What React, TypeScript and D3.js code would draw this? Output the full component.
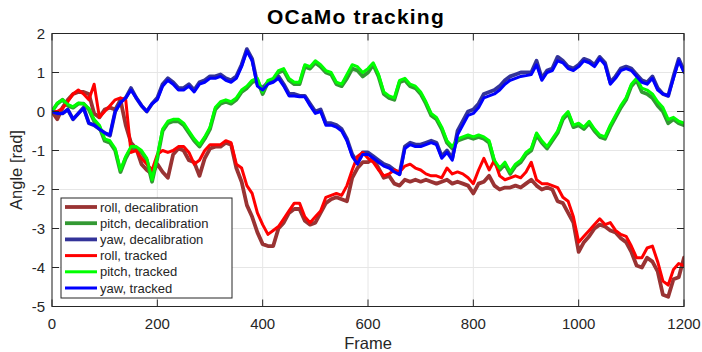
import { scaleLinear, line, range } from "d3";

// frames sampled every 10 (0..1200)
const frames = range(0, 1201, 10);

const rollDecal = [
  0, -0.2, 0.1, 0.3, 0.45, 0.5, 0.5, 0.45, -0.05, -0.15,
  0.05, 0.1, 0.05, 0.3, -0.35, -0.8, -0.95, -1.35, -1.5, -1.6,
  -1.35, -1.55, -1.7, -1.1, -0.95, -1.0, -1.25, -1.3, -1.65, -1.2,
  -0.95, -0.9, -0.9, -0.8, -0.85, -1.45, -1.8, -2.4, -2.7, -3.1,
  -3.4, -3.45, -3.45, -3.0, -2.85, -2.6, -2.5, -2.5, -2.8, -2.9,
  -2.85, -2.6, -2.35, -2.25, -2.2, -2.25, -2.3, -1.7, -1.45, -1.3,
  -1.3, -1.2, -1.45, -1.7, -1.65, -1.85, -1.9, -1.75, -1.8, -1.75,
  -1.8, -1.75, -1.8, -1.85, -1.8, -1.75, -1.85, -1.8, -1.85, -1.9,
  -2.1, -1.85, -1.8, -1.65, -1.9, -2.0, -1.95, -1.95, -1.9, -1.95,
  -1.85, -1.75, -1.9, -2.0, -1.95, -2.0, -2.3, -2.35, -2.6, -2.85,
  -3.6, -3.35, -3.2, -3.0, -2.9, -2.95, -3.05, -3.1, -3.25, -3.35,
  -3.6, -3.95, -4.0, -3.75, -3.85, -4.1, -4.7, -4.75, -4.3, -4.25,
  -3.75,
];

const pitchDecal = [
  0, 0.2, 0.3, 0.15, 0.1, 0.2, 0.2, 0.05, -0.25, -0.4,
  -0.75, -0.8, -1.0, -1.55, -1.2, -0.95, -0.95, -1.05, -1.25, -1.8,
  -1.2, -0.5, -0.3, -0.25, -0.25, -0.35, -0.55, -0.75, -0.9, -0.7,
  -0.45, 0.05, 0.2, 0.25, 0.2, 0.3, 0.5, 0.6, 0.75, 0.8,
  0.45, 0.75, 0.8, 1.0, 1.05, 0.8, 0.7, 0.7, 1.15, 1.1,
  1.25, 1.15, 1.0, 0.95, 0.7, 0.65, 0.85, 1.1, 1.05, 0.9,
  1.0, 1.2, 0.9, 0.45, 0.35, 0.3, 0.75, 0.8, 0.65, 0.6,
  0.45, 0.2, -0.1, -0.2, -0.45, -0.8, -0.95, -0.75, -0.7, -0.65,
  -0.7, -0.65, -0.7, -0.8, -1.3, -1.5, -1.35, -1.6, -1.4, -1.3,
  -1.1, -1.0, -0.6, -0.8, -0.95, -0.75, -0.55, -0.2, -0.05, -0.4,
  -0.35, -0.45, -0.3, -0.5, -0.65, -0.7, -0.4, -0.15, 0.1, 0.3,
  0.65, 0.8, 0.5, 0.45, 0.35, 0.15, 0.0, -0.3, -0.2, -0.3,
  -0.35,
];

const yawDecal = [
  0, -0.05, -0.05, 0.05, -0.2, -0.05, 0.1, -0.3, -0.35, -0.45,
  -0.55, -0.62, 0.0, 0.25, 0.35, 0.6, 0.35, 0.15, 0.0, 0.2,
  0.35, 0.7, 0.85, 0.75, 0.6, 0.6, 0.7, 0.55, 0.75, 0.8,
  0.9, 0.9, 0.95, 0.85, 0.8, 0.9, 1.2, 1.6, 1.35, 0.7,
  0.6, 0.75, 0.8, 0.9, 0.7, 0.45, 0.45, 0.4, 0.4, 0.2,
  0.0, 0.05, -0.3, -0.3, -0.35, -0.45, -0.7, -1.1, -1.3, -1.05,
  -1.05, -1.15, -1.25, -1.35, -1.4, -1.5, -1.6, -0.9, -0.8, -0.85,
  -0.85, -0.8, -0.75, -0.8, -1.15, -1.0, -1.2, -0.5, -0.25, 0.0,
  0.05, 0.2, 0.45, 0.5, 0.55, 0.65, 0.8, 0.9, 0.95, 1.0,
  1.0, 1.0, 1.3, 0.85, 1.05, 1.1, 1.4, 1.3, 1.15, 1.1,
  1.2, 1.35, 1.3, 1.2, 1.4, 1.25, 0.75, 0.9, 1.1, 1.15,
  1.1, 0.95, 0.8, 0.75, 0.9, 0.6, 0.45, 0.4, 0.9, 1.35,
  1.05,
];

const rollTracked = [
  0, 0.0, 0.08, 0.25, 0.45, 0.55, 0.45, 0.3, 0.7, -0.15,
  0.0, 0.15, 0.3, 0.35, 0.3, -1.05, -1.0, -1.2, -1.35, -1.5,
  -1.1, -1.0, -1.05, -1.0, -0.9, -0.9, -1.05, -1.35, -1.25, -1.0,
  -0.85, -0.85, -0.85, -0.75, -0.8, -1.35, -1.45, -1.9, -2.1, -2.6,
  -2.9, -3.15, -3.05, -2.95, -2.75, -2.55, -2.35, -2.35, -2.7, -2.85,
  -2.7, -2.55, -2.2, -2.15, -2.1, -2.15, -1.9, -1.5, -1.15, -1.05,
  -1.2, -1.3, -1.5, -1.65, -1.6, -1.5, -1.55, -1.4, -1.35, -1.45,
  -1.5, -1.6, -1.65, -1.65, -1.7, -1.45, -1.6, -1.55, -1.6, -1.7,
  -1.85, -1.5, -1.2, -1.5, -1.25, -1.65, -1.75, -1.7, -1.65, -1.7,
  -1.55, -1.3, -1.75, -1.85, -1.85, -1.9, -1.95, -2.2, -2.3, -2.7,
  -3.35, -3.2, -3.05, -2.9, -2.75, -2.9, -2.85, -3.05, -3.15, -3.2,
  -3.45, -3.75, -3.75, -3.5, -3.45, -3.85, -4.35, -4.45, -4.05, -3.9,
  -3.95,
];

const pitchTracked = [
  0, 0.22, 0.3, 0.18, 0.12, 0.22, 0.2, 0.08, -0.2, -0.35,
  -0.7, -0.75, -0.95, -1.5, -1.15, -0.9, -0.9, -1.0, -1.2, -1.75,
  -1.15, -0.45, -0.25, -0.2, -0.2, -0.3, -0.5, -0.7, -0.85, -0.65,
  -0.4, 0.1, 0.25, 0.3, 0.25, 0.35, 0.55, 0.65, 0.8, 0.85,
  0.5, 0.8, 0.85, 1.05, 1.1, 0.85, 0.75, 0.75, 1.2, 1.15,
  1.3, 1.2, 1.05, 1.0, 0.75, 0.7, 0.95, 1.2, 1.15, 1.0,
  1.1, 1.25, 0.95, 0.5, 0.4, 0.35, 0.8, 0.85, 0.7, 0.65,
  0.5, 0.25, -0.05, -0.15, -0.4, -0.75, -0.9, -0.7, -0.65, -0.6,
  -0.65, -0.6, -0.65, -0.75, -1.25, -1.45, -1.3, -1.55, -1.35, -1.25,
  -1.05, -0.95, -0.55, -0.75, -0.9, -0.7, -0.5, -0.15, 0.0, -0.35,
  -0.3, -0.4, -0.25, -0.45, -0.6, -0.65, -0.35, -0.1, 0.15, 0.35,
  0.7, 0.85, 0.6, 0.55, 0.45, 0.25, 0.1, -0.2, -0.15, -0.25,
  -0.3,
];

const yawTracked = [
  0, -0.05, -0.05, 0.05, -0.2, -0.05, 0.08, -0.3, -0.35, -0.45,
  -0.55, -0.6, 0.0, 0.22, 0.35, 0.55, 0.35, 0.15, 0.0, 0.2,
  0.3, 0.65, 0.8, 0.7, 0.55, 0.55, 0.65, 0.5, 0.7, 0.75,
  0.85, 0.85, 0.9, 0.8, 0.75, 0.85, 1.15, 1.55, 1.3, 0.65,
  0.55, 0.7, 0.75, 0.85, 0.65, 0.4, 0.4, 0.38, 0.38, 0.15,
  -0.05, 0.0, -0.35, -0.35, -0.4, -0.5, -0.75, -1.15, -1.35, -1.1,
  -1.1, -1.2, -1.3, -1.4, -1.45, -1.55, -1.62, -0.95, -0.85, -0.9,
  -0.9, -0.85, -0.8, -0.85, -1.2, -1.05, -1.25, -0.6, -0.35, -0.1,
  -0.05, 0.1, 0.35, 0.4, 0.45, 0.55, 0.7, 0.8, 0.85, 0.9,
  0.92, 0.95, 1.2, 0.8, 1.0, 1.05, 1.3, 1.25, 1.1, 1.05,
  1.15, 1.3, 1.25, 1.15, 1.35, 1.2, 0.7, 0.85, 1.05, 1.1,
  1.05, 0.9, 0.75, 0.7, 0.85, 0.55, 0.45, 0.4, 0.85, 1.3,
  1.0,
];

const xTicks = [0, 200, 400, 600, 800, 1000, 1200];
const yTicks = [-5, -4, -3, -2, -1, 0, 1, 2];

const series = [
  { name: "roll, decalibration", values: rollDecal, color: "#993333", width: 3.8 },
  { name: "pitch, decalibration", values: pitchDecal, color: "#339933", width: 3.8 },
  { name: "yaw, decalibration", values: yawDecal, color: "#333399", width: 3.8 },
  { name: "roll, tracked", values: rollTracked, color: "#ff0000", width: 3 },
  { name: "pitch, tracked", values: pitchTracked, color: "#00ff00", width: 3 },
  { name: "yaw, tracked", values: yawTracked, color: "#0000ff", width: 3 },
];

const W = 702;
const H = 352;
const m = { left: 52, right: 684, top: 33.5, bottom: 306.5 };
const font = "'Liberation Sans', Arial, Helvetica, sans-serif";
const axisColor = "#262626";

export default function App() {
  const x = scaleLinear().domain([0, 1200]).range([m.left, m.right]);
  const y = scaleLinear().domain([-5, 2]).range([m.bottom, m.top]);

  const path = (vals: number[]) =>
    line<number>()
      .x((_, i) => x(frames[i]))
      .y((d) => y(d))(vals) ?? "";

  const legend = { x: 61, y: 198, w: 171, h: 100 };

  return (
    <svg
      width={W}
      height={H}
      style={{ position: "absolute", left: 0, top: 0, background: "#fff" }}
      fontFamily={font}
    >
      <rect x={0} y={0} width={W} height={H} fill="#fff" />

      {/* grid */}
      {xTicks.map((t) => (
        <line key={"gx" + t} x1={x(t)} x2={x(t)} y1={m.top} y2={m.bottom} stroke="#e6e6e6" strokeWidth={1} />
      ))}
      {yTicks.map((t) => (
        <line key={"gy" + t} x1={m.left} x2={m.right} y1={y(t)} y2={y(t)} stroke="#e6e6e6" strokeWidth={1} />
      ))}

      {/* data */}
      <defs>
        <clipPath id="plot">
          <rect x={m.left} y={m.top} width={m.right - m.left} height={m.bottom - m.top} />
        </clipPath>
      </defs>
      <g clipPath="url(#plot)" fill="none" strokeLinejoin="round" strokeLinecap="round">
        {series.map((s) => (
          <path key={s.name} d={path(s.values)} stroke={s.color} strokeWidth={s.width} />
        ))}
      </g>

      {/* axes box + ticks */}
      <rect
        x={m.left}
        y={m.top}
        width={m.right - m.left}
        height={m.bottom - m.top}
        fill="none"
        stroke={axisColor}
        strokeWidth={1}
      />
      {xTicks.map((t) => (
        <g key={"tx" + t} stroke={axisColor}>
          <line x1={x(t)} x2={x(t)} y1={m.bottom} y2={m.bottom - 7} />
          <line x1={x(t)} x2={x(t)} y1={m.top} y2={m.top + 7} />
        </g>
      ))}
      {yTicks.map((t) => (
        <g key={"ty" + t} stroke={axisColor}>
          <line x1={m.left} x2={m.left + 7} y1={y(t)} y2={y(t)} />
          <line x1={m.right} x2={m.right - 7} y1={y(t)} y2={y(t)} />
        </g>
      ))}

      {/* tick labels */}
      {xTicks.map((t) => (
        <text key={"lx" + t} x={x(t)} y={m.bottom + 22} textAnchor="middle" fontSize={15} fill={axisColor}>
          {t}
        </text>
      ))}
      {yTicks.map((t) => (
        <text key={"ly" + t} x={m.left - 7} y={y(t) + 5.5} textAnchor="end" fontSize={15} fill={axisColor}>
          {t}
        </text>
      ))}

      {/* axis labels */}
      <text x={(m.left + m.right) / 2} y={349} textAnchor="middle" fontSize={16.5} fill={axisColor}>
        Frame
      </text>
      <text
        transform={`translate(22,${(m.top + m.bottom) / 2}) rotate(-90)`}
        textAnchor="middle"
        fontSize={16.5}
        fill={axisColor}
      >
        Angle [rad]
      </text>

      {/* title */}
      <text
        x={(m.left + m.right) / 2 - 12}
        y={24}
        textAnchor="middle"
        fontSize={21}
        fontWeight="bold"
        letterSpacing={1.2}
        fill="#000"
      >
        OCaMo tracking
      </text>

      {/* legend */}
      <rect x={legend.x} y={legend.y} width={legend.w} height={legend.h} fill="#fff" stroke={axisColor} strokeWidth={1} />
      {series.map((s, i) => {
        const ly = legend.y + 9 + i * 16.2;
        return (
          <g key={"lg" + s.name}>
            <line x1={legend.x + 4} x2={legend.x + 36} y1={ly} y2={ly} stroke={s.color} strokeWidth={s.width} />
            <text x={legend.x + 39} y={ly + 4.5} fontSize={13} fill={axisColor}>
              {s.name}
            </text>
          </g>
        );
      })}
    </svg>
  );
}
